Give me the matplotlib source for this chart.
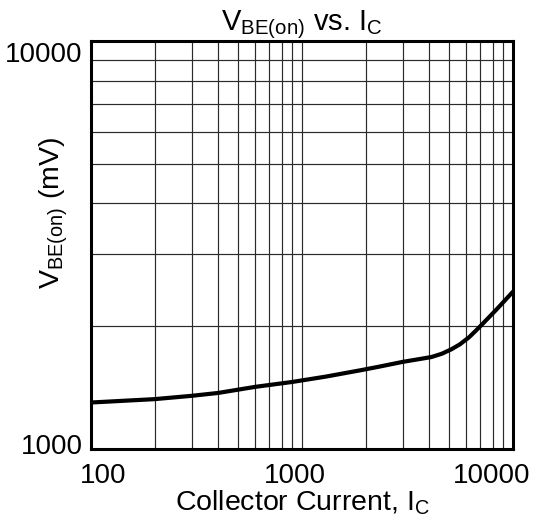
import numpy as np
import matplotlib
matplotlib.use("Agg")
import matplotlib.pyplot as plt
import matplotlib.transforms as mtransforms
from matplotlib.ticker import LogLocator, NullFormatter

plt.rcParams['font.family'] = ['Liberation Sans', 'DejaVu Sans']
plt.rcParams['mathtext.fontset'] = 'custom'
plt.rcParams['mathtext.rm'] = 'Liberation Sans'
plt.rcParams['mathtext.it'] = 'Liberation Sans:italic'

# data
ic = [100, 200, 300, 400, 600, 900, 1300, 1900, 2300, 3000, 4100, 4600, 5100, 5600,
      6200, 6600, 7100, 8300, 10000]
vbe = [1300, 1325, 1350, 1372, 1420, 1460, 1505, 1560, 1590, 1635, 1680, 1712, 1755, 1805,
       1880, 1940, 2015, 2190, 2430]

x_ticks = [100, 1000, 10000]
x_labels = ['100', '1000', '10000']
y_ticks = [1000, 10000]
y_labels = ['1000', '10000']

fig = plt.figure(figsize=(5.35, 5.19), dpi=100)
ax = fig.add_axes([91/535, 1 - 449/519, (513 - 91)/535, (449 - 41)/519])

ax.plot(ic, vbe, color='black', linewidth=3.0, solid_capstyle='round',
        solid_joinstyle='round', zorder=3)

ax.set_xscale('log')
ax.set_yscale('log')
ax.set_xlim(100, 10000)
ax.set_ylim(1000, 10000)

ax.set_xticks(x_ticks)
ax.set_xticklabels(x_labels)
ax.set_yticks(y_ticks)
ax.set_yticklabels(y_labels)
ax.xaxis.set_minor_locator(LogLocator(base=10, subs=np.arange(2, 10)))
ax.yaxis.set_minor_locator(LogLocator(base=10, subs=np.arange(2, 10)))
ax.xaxis.set_minor_formatter(NullFormatter())
ax.yaxis.set_minor_formatter(NullFormatter())

ax.tick_params(which='both', length=0, labelsize=20)
ax.tick_params(axis='x', pad=10)
ax.tick_params(axis='y', pad=6)

ax.grid(which='both', color='#2a2a2a', linewidth=0.85)
for s in ax.spines.values():
    s.set_linewidth(2.2)
    s.set_color('black')

# nudge tick labels like the original sheet
x_shift = [12, -7, -21]
for lab, dx in zip(ax.get_xticklabels(), x_shift):
    lab.set_transform(lab.get_transform() + mtransforms.ScaledTranslation(dx/100, 0, fig.dpi_scale_trans))
y_shift = [5, -11]
for lab, dy in zip(ax.get_yticklabels(), y_shift):
    lab.set_transform(lab.get_transform() + mtransforms.ScaledTranslation(0, dy/100, fig.dpi_scale_trans))

ax.set_title(r'$\mathregular{V_{BE(on)}}$ vs. $\mathregular{I_C}$', fontsize=21, pad=4)
ax.set_xlabel(r'Collector Current, $\mathregular{I_C}$', fontsize=20.5, labelpad=0)
ax.set_ylabel(r'$\mathregular{V_{BE(on)}}$ (mV)', fontsize=20.5)
ax.yaxis.set_label_coords(-0.05, 0.578)

fig.savefig('out.png', dpi=100)
